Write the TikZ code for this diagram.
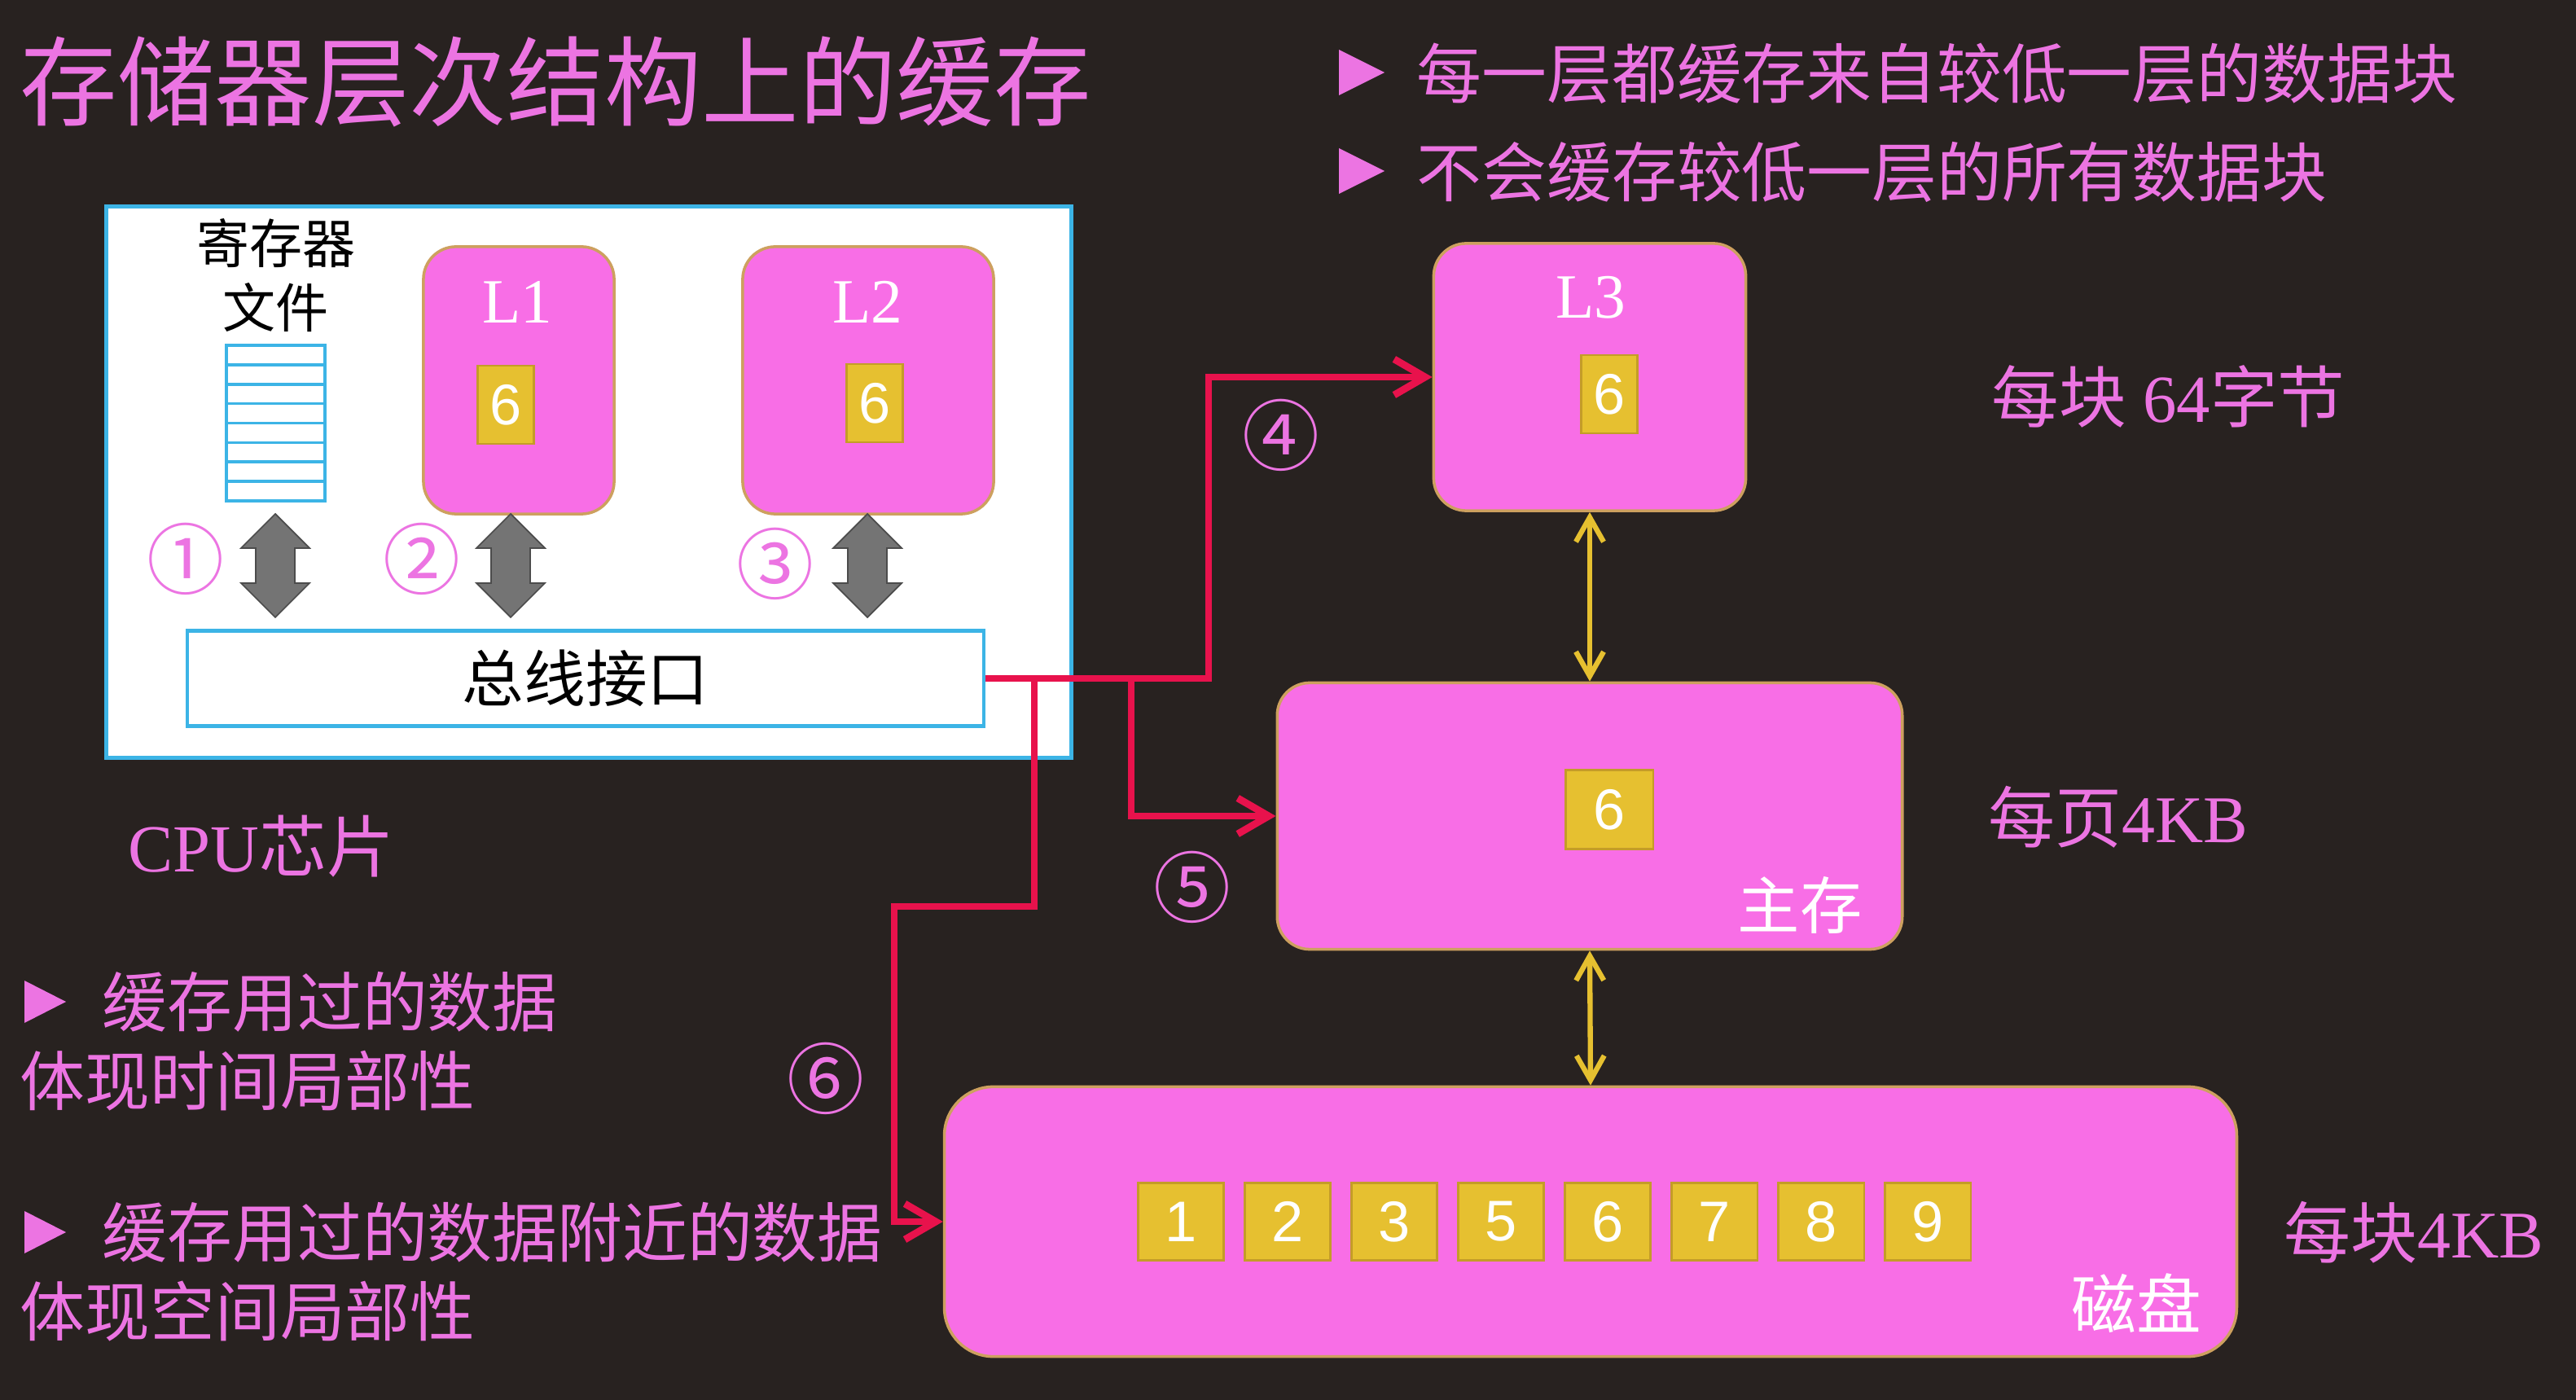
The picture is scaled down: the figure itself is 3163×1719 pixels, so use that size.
\documentclass[tikz,border=0pt]{standalone}
\usepackage{fontspec}
\setmainfont{Liberation Serif}
\newfontfamily\cjk{Noto Sans CJK SC}
\newfontfamily\digitfont{Liberation Sans}
\usetikzlibrary{arrows.meta}

\definecolor{bgdark}{RGB}{40,34,32}
\definecolor{pinktext}{RGB}{236,116,226}
\definecolor{boxpink}{RGB}{248,110,230}
\definecolor{boxedge}{RGB}{205,160,95}
\definecolor{blockyellow}{RGB}{230,192,48}
\definecolor{blockedge}{RGB}{196,156,40}
\definecolor{linkred}{RGB}{232,18,76}
\definecolor{chipblue}{RGB}{60,180,230}
\definecolor{busgray}{RGB}{116,116,116}

\tikzset{
  cache/.style={draw=boxedge, line width=1pt, fill=boxpink, rounded corners=0.4cm, inner sep=0pt},
  block/.style={draw=blockedge, line width=0.6pt, fill=blockyellow, text=white, inner sep=0pt,
    font=\digitfont\fontsize{20}{24}\selectfont, minimum height=0.96cm},
  level/.style={text=white, inner sep=0pt, font=\fontsize{22}{26}\selectfont},
  pinklabel/.style={text=pinktext, inner sep=0pt, anchor=west, font=\cjk\fontsize{22.7}{27}\selectfont},
  circnum/.style={text=pinktext, inner sep=0pt, font=\cjk\fontsize{27}{32}\selectfont},
  link/.style={draw=linkred, line width=2.5pt, -{Straight Barb[length=0.38cm,width=0.44cm]}},
  yarrow/.style={draw=blockyellow, line width=1.8pt, {Straight Barb[length=0.3cm,width=0.34cm]}-{Straight Barb[length=0.3cm,width=0.34cm]}},
  bullet/.style={fill=pinktext}
}

\begin{document}
\begin{tikzpicture}[x=0.01cm, y=-0.01cm]
\useasboundingbox (0,0) rectangle (3163,1719);
\fill[bgdark] (0,0) rectangle (3163,1719);

% title and notes
\node[pinklabel, font=\cjk\fontsize{34}{40}\selectfont] (title) at (24,100) {存储器层次结构上的缓存};
\fill[bullet] (1644,61) -- (1700,89) -- (1644,117) -- cycle;
\node[pinklabel] (note1) at (1739,90) {每一层都缓存来自较低一层的数据块};
\fill[bullet] (1644,182) -- (1700,210) -- (1644,238) -- cycle;
\node[pinklabel] (note2) at (1739,211) {不会缓存较低一层的所有数据块};

% CPU chip
\node[draw=chipblue, line width=1.5pt, fill=white, minimum width=11.84cm, minimum height=6.76cm] (cpu) at (723,592) {};
\node[pinklabel, font=\fontsize{23.5}{28}\selectfont] (cpuname) at (157,1039) {CPU{\cjk 芯片}};
\node[align=center, inner sep=0pt, font=\cjk\fontsize{18.5}{22.5}\selectfont] (regname) at (339,338) {寄存器\\文件};
\node[draw=chipblue, line width=1pt, fill=white, minimum width=1.21cm, minimum height=1.91cm, inner sep=0pt] (regs) at (338.5,519.5) {};
\foreach \r in {1,...,7}
  \draw[chipblue, line width=1pt] (278,{424+23.875*\r}) -- (399,{424+23.875*\r});

\node[cache, minimum width=2.34cm, minimum height=3.28cm] (L1) at (637,467) {};
\node[level] (L1name) at (635,371) {L1};
\node[block, minimum width=0.69cm] (L1blk) at (621,497) {6};
\node[cache, minimum width=3.08cm, minimum height=3.28cm] (L2) at (1066,467) {};
\node[level] (L2name) at (1065,371) {L2};
\node[block, minimum width=0.69cm] (L2blk) at (1074,495) {6};

\node[draw=chipblue, line width=1.2pt, fill=white, minimum width=9.78cm, minimum height=1.17cm,
  font=\cjk\fontsize{21.5}{26}\selectfont] (bus) at (719,833) {总线接口};

\foreach \ax in {338,627,1065}
  \filldraw[fill=busgray, draw=black!70, line width=0.5pt] (\ax,631) -- ({\ax+42},673) -- ({\ax+24},673)
    -- ({\ax+24},716) -- ({\ax+42},716) -- (\ax,758) -- ({\ax-42},716) -- ({\ax-24},716)
    -- ({\ax-24},673) -- ({\ax-42},673) -- cycle;
\node[circnum] (c1) at (228,686) {①};
\node[circnum] (c2) at (518,686) {②};
\node[circnum] (c3) at (952,692) {③};

% L3, memory, disk
\node[cache, minimum width=3.83cm, minimum height=3.28cm] (L3) at (1952,463) {};
\node[level] (L3name) at (1953,365) {L3};
\node[block, minimum width=0.69cm] (L3blk) at (1976,484) {6};
\node[pinklabel, font=\fontsize{23.5}{28}\selectfont] (L3size) at (2445,487) {{\cjk 每块} 64{\cjk 字节}};

\node[cache, minimum width=7.67cm, minimum height=3.27cm] (mem) at (1952,1002) {};
\node[block, minimum width=1.07cm, minimum height=0.97cm] (memblk) at (1976,994) {6};
\node[level, font=\cjk\fontsize{21.7}{26}\selectfont] (memname) at (2210,1111) {主存};
\node[pinklabel, font=\fontsize{23.3}{28}\selectfont] (memsize) at (2441,1003) {{\cjk 每页}4KB};

\node[cache, rounded corners=0.6cm, minimum width=15.86cm, minimum height=3.31cm] (disk) at (1953,1500) {};
\foreach \n [count=\i] in {1,2,3,5,6,7,8,9}
  \node[block, minimum width=1.05cm, minimum height=0.95cm] (d\n) at ({1450+131*(\i-1)},1500) {\n};
\node[level, font=\cjk\fontsize{22.7}{27}\selectfont] (diskname) at (2623,1600) {磁盘};
\node[pinklabel, font=\fontsize{23.3}{28}\selectfont] (disksize) at (2804,1513) {{\cjk 每块}4KB};

\draw[yarrow] (L3.south) -- (mem.north);
\draw[yarrow] (mem.south) -- (disk.north);

% fetch paths
\coordinate (j6) at (1270,833);
\coordinate (j5) at (1389,833);
\coordinate (j4) at (1484,833);
\coordinate (bend6) at (1098,1113);
\draw[link] (bus.east) -- (j4) |- (L3.west);
\draw[link] (j5) |- (mem.west);
\draw[link] (j6) |- (bend6) |- (disk.west);
\node[circnum] (c4) at (1573,534) {④};
\node[circnum] (c5) at (1464,1089) {⑤};
\node[circnum] (c6) at (1014,1324) {⑥};

% locality notes
\fill[bullet] (30,1204) -- (81,1230) -- (30,1256) -- cycle;
\node[pinklabel] (loc1) at (125,1230) {缓存用过的数据};
\node[pinklabel] (loc1b) at (24,1327) {体现时间局部性};
\fill[bullet] (30,1487) -- (81,1513) -- (30,1539) -- cycle;
\node[pinklabel] (loc2) at (125,1513) {缓存用过的数据附近的数据};
\node[pinklabel] (loc2b) at (24,1610) {体现空间局部性};
\end{tikzpicture}
\end{document}
